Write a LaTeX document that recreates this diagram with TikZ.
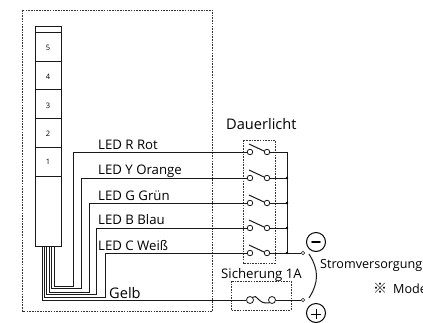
\documentclass[tikz,border=0pt]{standalone}
\usepackage{fontspec}
\setmainfont{Open Sans}
\newfontfamily\cjk{Noto Sans CJK JP}
\tikzset{
  wire/.style={line width=1pt,black!90},
  dotbox/.style={draw=black!80,line width=0.9pt,dash pattern=on 1.6pt off 1.1pt},
  term/.style={circle,draw=black!90,line width=0.8pt,fill=white,inner sep=0pt,minimum size=5.5pt},
  tiny term/.style={circle,draw=black!90,line width=0.6pt,fill=white,inner sep=0pt,minimum size=3.5pt},
  junction/.style={circle,fill=black,inner sep=0pt,minimum size=2.6pt},
  lbl/.style={inner sep=0pt,anchor=base west,font=\fontsize{13.2}{15}\selectfont},
  lblbig/.style={lbl,font=\fontsize{14.6}{16}\selectfont},
  lblsmall/.style={lbl,font=\fontsize{12.6}{14}\selectfont},
  seg/.style={inner sep=0pt,font=\fontsize{7.5}{8}\selectfont},
  pole/.style={circle,draw=black,line width=1pt,inner sep=0pt,minimum size=19pt},
}
\begin{document}
\begin{tikzpicture}[x=1pt,y=-1pt]
\useasboundingbox (0,0) rectangle (423,322);
\clip (0,0) rectangle (423,322);
\fill[white] (0,0) rectangle (423,322);
% enclosing dotted boxes
\draw[dotbox] (22.5,10) rectangle (212.5,311);
\draw[dotbox] (243,140) rectangle (275,263);
\draw[dotbox] (231,281) rectangle (291,310);
% tower
\draw[wire] (35,26.5) rectangle (61,246);
\foreach \yy in {32.5,61,89.5,118,147,176} \draw[wire] (35,\yy) -- (61,\yy);
\node[seg] (s5) at (48,48) {5};
\node[seg] (s4) at (48,77) {4};
\node[seg] (s3) at (48,105.5) {3};
\node[seg] (s2) at (48,134) {2};
\node[seg] (s1) at (48,161.5) {1};
% tower wire anchors
\coordinate (tr) at (54,246);
\coordinate (ty) at (51.5,246);
\coordinate (tg) at (49,246);
\coordinate (tb) at (46.5,246);
\coordinate (tc) at (44.5,246);
\coordinate (tk) at (42.5,246);
% switch terminals
\foreach \nm/\yy in {r/152,y/178,g/203,b/228,c/253}{
  \node[term] (a\nm) at (250,\yy) {};
  \node[term] (b\nm) at (267,\yy) {};
  \coordinate (l\nm) at (249,\yy-8);
  \coordinate (m\nm) at (264,\yy-1);
  \draw[wire] (l\nm) -- (m\nm);
  \coordinate (bus\nm) at (287,\yy);
  \draw[wire] (b\nm) -- (bus\nm);
}
\draw[wire] (tr) |- (73,286) |- (ar);
\draw[wire] (ty) |- (81,288) |- (ay);
\draw[wire] (tg) |- (89,292) |- (ag);
\draw[wire] (tb) |- (96.5,294.5) |- (ab);
\draw[wire] (tc) |- (105,297) |- (ac);
% bus
\draw[wire] (busr) -- (busc);
\foreach \nm in {y,g,b,c} \node[junction] at (bus\nm) {};
\node[tiny term] (tm) at (303,253) {};
\draw[wire] (busc) -- (tm);
% fuse
\node[term,minimum size=7pt] (f1) at (250,300) {};
\node[term,minimum size=7pt] (f2) at (272,300) {};
\node[tiny term] (tp) at (303,300) {};
\draw[wire] (tk) |- (f1);
\draw[wire] (f1.north east) .. controls (257,293) and (258,305) .. (f2.south west);
\draw[wire] (f2) -- (tp);
% supply bracket
\coordinate (cu) at (309,254);
\coordinate (cl) at (309,298);
\draw[wire] (cu) .. controls (319,270) and (319,282) .. (cl);
\node[pole] (minus) at (316,242) {};
\draw[line width=1.8pt,line cap=round] (312,242) -- (320,242);
\node[pole] (plus) at (316,313) {};
\draw[line width=1pt] (311,314) -- (321,314) (316,309) -- (316,319);
% labels
\node[lbl] (t1) at (98,149) {LED R Rot};
\node[lbl] (t2) at (98,174) {LED Y Orange};
\node[lbl] (t3) at (98,200) {LED G Grün};
\node[lbl] (t4) at (98,224.5) {LED B Blau};
\node[lbl] (t5) at (98,250) {LED C Weiß};
\node[lblbig] (t6) at (109,298) {Gelb};
\node[lblbig] (t7) at (226,129) {Dauerlicht};
\node[lbl] (t8) at (221,278) {Sicherung 1A};
\node[lblsmall] (t9) at (320,268) {Stromversorgung};
\node[lblsmall] (t10) at (373,293) {{\cjk\fontsize{14}{14}\selectfont ※}\hspace{6pt}Mode};
\end{tikzpicture}
\end{document}
